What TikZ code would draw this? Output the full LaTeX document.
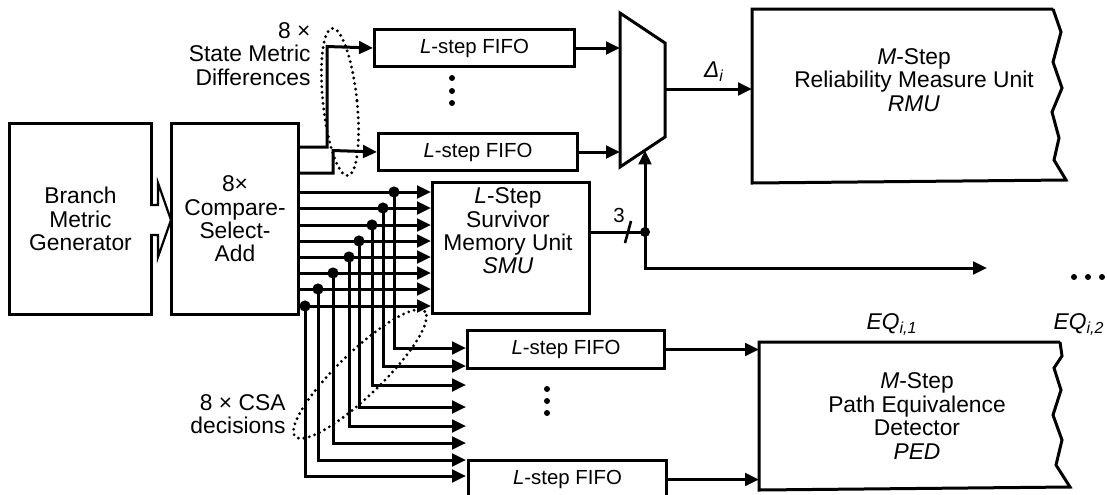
\documentclass[tikz,border=0pt]{standalone}
\usepackage{fontspec}
\setmainfont{Liberation Sans}
\usetikzlibrary{arrows.meta,calc}
\newcommand{\mfont}{\fontsize{11.4}{11.7}\selectfont}
\newcommand{\ffont}{\fontsize{10.2}{12}\selectfont}
\begin{document}
\begin{tikzpicture}[x=0.5pt,y=-0.5pt,line width=1.5pt,
  box/.style={draw,rectangle,anchor=north west,inner sep=0pt,align=center,font=\mfont},
  fifo/.style={box,font=\ffont},
  lbl/.style={inner sep=0pt,align=center,font=\mfont},
  arr/.style={-{Triangle[length=7pt,width=6.3pt]}},
  dotline/.style={line width=1.6pt,dash pattern=on 0pt off 2.8pt,line cap=round},
  jdot/.style={fill=black},
  hollow/.style={line width=1.1pt,fill=white,line join=miter}]
\useasboundingbox (0,0) rectangle (1107,494);
% main boxes
\node[box,minimum width=71pt,minimum height=95.5pt] (bmg) at (8,122) {Branch\\Metric\\Generator};
\node[box,minimum width=63.5pt,minimum height=95.5pt] (csa) at (170,122) {8\texttimes\\Compare-\\Select-\\Add};
\node[box,minimum width=78.5pt,minimum height=65.5pt] (smu) at (431,181) {};
\node[lbl] (smutext) at (508,231) {\textit{L}-Step\\Survivor\\Memory Unit\\\textit{SMU}};
\node[fifo,minimum width=100pt,minimum height=18.5pt] (f1) at (373,28) {\textit{L}-step FIFO};
\node[fifo,minimum width=99.5pt,minimum height=18.5pt] (f2) at (377,132) {\textit{L}-step FIFO};
\node[fifo,minimum width=98.5pt,minimum height=19pt] (f3) at (466,329) {\textit{L}-step FIFO};
\node[fifo,minimum width=99pt,minimum height=19pt] (f4) at (467,459) {\textit{L}-step FIFO};
% RMU
\node[anchor=north west,inner sep=0pt,minimum width=149pt,minimum height=85.5pt] (rmu) at (752,9) {};
\draw (rmu.north east) -- (rmu.north west) -- (rmu.south west) -- (1066,180) -- (1054,160) -- (1059,138)
  -- (1052,112) -- (1062,88) -- (1053,62) -- (1061,32) -- (rmu.north east);
\node[lbl] (rmutext) at (914,80) {\textit{M}-Step\\Reliability Measure Unit\\\textit{RMU}};
% PED
\node[anchor=north west,inner sep=0pt,minimum width=149pt,minimum height=72.5pt] (ped) at (759,342) {};
\draw (ped.north east) -- (ped.north west) -- (ped.south west) -- (1070,487) -- (1056,465) -- (1062,440)
  -- (1053,415) -- (1061,390) -- (1054,368) -- (1062,356) -- (ped.north east);
\node[lbl] (pedtext) at (917,416) {\textit{M}-Step\\Path Equivalence\\Detector\\\textit{PED}};
\node[lbl,font=\mfont\itshape] (eq1) at (892,325) {EQ\textsubscript{i,1}};
\node[lbl,font=\mfont\itshape] (eq2) at (1079,325) {EQ\textsubscript{i,2}};
% mux
\coordinate (mx1) at (620,13);
\coordinate (mx2) at (665,43);
\coordinate (mx3) at (665,137);
\coordinate (mx4) at (620,167);
\draw (mx1) -- (mx2) -- (mx3) -- (mx4) -- cycle;
\coordinate (mo) at (665,89);
\coordinate (msel) at ($(mx4)!0.555!(mx3)$);
\draw[arr] (f1.east) -- (f1.east -| mx1);
\draw[arr] (f2.east) -- (f2.east -| mx1);
\draw[arr] (mo) -- (mo -| rmu.west);
\node[lbl,font=\mfont\itshape] (delta) at (714,72) {Δ\textsubscript{i}};
% hollow arrow
\draw[hollow] (150,205) -- (158,205) -- (158,183) -- (171,220) -- (158,257) -- (158,235) -- (150,235);
% state metric differences
\coordinate (sd1) at (297,147);
\coordinate (sd2) at (297,173);
\draw[arr] (sd1) -| (327,46.5) -- (f1.west);
\draw[arr] (sd2) -| (333,150.5) -- (f2.west);
\node[lbl,align=right,anchor=east] (smdlbl) at (312,54) {8 \texttimes\\State Metric\\Differences};
\draw[dotline,rotate around={6:(340,102)}] (340,102) ellipse [x radius=8.5pt,y radius=37pt];
\fill (452,78) circle (1.5pt) (452,91) circle (1.5pt) (452,103) circle (1.5pt);
% CSA decision bus
\foreach \yb/\xt/\yt in {192/394/348,208/383/366,225/372/385,241/359/407,257/349/426,273/333/443,289/318/460,306/305/476}{
  \draw[arr] (csa.east |- 0,\yb) -- (smu.west |- 0,\yb);
}
\foreach \yb/\xt/\yt in {192/394/348,208/383/366,225/372/385,241/359/407,257/349/426,273/333/443,289/318/460,306/305/476}{
  \draw[arr] (\xt,\yb) |- (f3.west |- 0,\yt);
  \fill[jdot] (\xt,\yb) circle (2.8pt);
}
\node[lbl,align=right,anchor=east] (csalbl) at (287,414) {8 \texttimes{} CSA\\decisions};
\draw[dotline,rotate around={44:(360,374)}] (360,374) ellipse [x radius=45pt,y radius=11pt];
\fill (547,389) circle (1.5pt) (547,401) circle (1.5pt) (547,413) circle (1.5pt);
% PED inputs
\draw[arr] (f3.east) -- (f3.east -| ped.west);
\draw[arr] (f4.east) -- (f4.east -| ped.west);
% SMU output
\coordinate (jn) at (645,232);
\coordinate (out) at (987,268);
\draw (smu.east |- jn) -- (jn);
\draw[arr] (jn) -- (jn |- msel);
\draw[arr] (jn) |- (out);
\fill[jdot] (jn) circle (2.5pt);
\draw[line width=1.3pt] (625,243) -- (631,221);
\node[lbl,font=\ffont] (three) at (619,215) {3};
\fill (1074,277) circle (1.5pt) (1088,277) circle (1.5pt) (1102,277) circle (1.5pt);
\end{tikzpicture}
\end{document}
